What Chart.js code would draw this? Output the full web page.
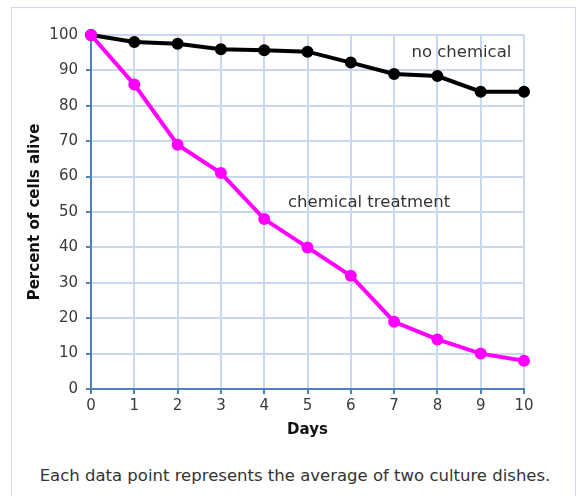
<!DOCTYPE html>
<html>
<head>
<meta charset="utf-8">
<script src="https://cdn.jsdelivr.net/npm/chart.js@4"></script>
<style>
  html, body { margin: 0; padding: 0; background: #fff; }
  body { width: 581px; height: 496px; position: relative; overflow: hidden; font-family: "DejaVu Sans", Verdana, sans-serif; }
  #frame { position: absolute; left: 11px; top: 7px; width: 563px; height: 520px; border: 1px solid #cfd9e6; }
  #wrap { position: absolute; left: 0; top: 0; width: 581px; height: 440px; }
  #caption { position: absolute; left: 0; top: 466px; width: 590px; text-align: center; font-size: 16.5px; color: #333; }
</style>
</head>
<body>
<div id="frame"></div>
<div id="wrap"><canvas id="cellsChart" width="581" height="440"></canvas></div>
<div id="caption">Each data point represents the average of two culture dishes.</div>
<script>
// Percent of cells alive per day
const days = [0, 1, 2, 3, 4, 5, 6, 7, 8, 9, 10];
const noChemical = [100, 98, 97.5, 96, 95.7, 95.3, 92.2, 89, 88.4, 84, 84];
const chemicalTreatment = [100, 86, 69, 61, 48, 40, 32, 19, 14, 10, 8];
const yTicks = [0, 10, 20, 30, 40, 50, 60, 70, 80, 90, 100];

// labels written inside the plot, placed in data units
const seriesNotes = [
    { text: 'no chemical', x: 7.4, y: 95 },
    { text: 'chemical treatment', x: 4.55, y: 52.6 }
];

const gridColor = '#c9d8ec';
const axisColor = '#4f81bd';
const tickColor = '#3a3a3a';
const fontFamily = '"DejaVu Sans", Verdana, sans-serif';

const notesPlugin = {
    id: 'seriesNotes',
    afterDatasetsDraw(chart) {
        const ctx = chart.ctx;
        ctx.save();
        ctx.font = '16.5px ' + fontFamily;
        ctx.fillStyle = '#333';
        ctx.textAlign = 'left';
        ctx.textBaseline = 'middle';
        seriesNotes.forEach(n => {
            ctx.fillText(n.text, chart.scales.x.getPixelForValue(n.x), chart.scales.y.getPixelForValue(n.y));
        });
        ctx.restore();
    }
};

const toPoints = vals => vals.map((v, i) => ({ x: days[i], y: v }));

new Chart(document.getElementById('cellsChart'), {
    type: 'line',
    data: {
        datasets: [
            {
                label: 'no chemical',
                data: toPoints(noChemical),
                borderColor: '#000',
                backgroundColor: '#000',
                borderWidth: 4,
                pointRadius: 4,
                pointHoverRadius: 4,
                tension: 0,
                clip: false,
                order: 2
            },
            {
                // magenta line sits on top of the black one
                label: 'chemical treatment',
                data: toPoints(chemicalTreatment),
                borderColor: '#ff00ff',
                backgroundColor: '#ff00ff',
                borderWidth: 4,
                pointRadius: 4,
                pointHoverRadius: 4,
                tension: 0,
                clip: false,
                order: 1
            }
        ]
    },
    options: {
        responsive: false,
        animation: false,
        layout: { padding: { top: 35, right: 57, left: 22, bottom: 0 } },
        plugins: { legend: { display: false }, tooltip: { enabled: false } },
        scales: {
            x: {
                type: 'linear',
                min: 0,
                max: 10,
                afterFit: s => { s.height = 51; },
                ticks: {
                    stepSize: 1,
                    color: tickColor,
                    padding: 3,
                    font: { family: fontFamily, size: 15 }
                },
                grid: { color: gridColor, lineWidth: 2, tickLength: 5, tickColor: axisColor },
                border: { color: axisColor, width: 2 },
                title: {
                    display: true,
                    text: 'Days',
                    color: '#111',
                    padding: { top: 0, bottom: 1 },
                    font: { family: fontFamily, size: 15, weight: 'bold' }
                }
            },
            y: {
                min: 0,
                max: 100,
                afterFit: s => { s.width = 69; },
                afterBuildTicks: s => { s.ticks = yTicks.map(v => ({ value: v })); },
                ticks: {
                    color: tickColor,
                    padding: 8,
                    font: { family: fontFamily, size: 15 }
                },
                grid: { color: gridColor, lineWidth: 2, tickLength: 5, tickColor: axisColor },
                border: { color: axisColor, width: 2 },
                title: {
                    display: true,
                    text: 'Percent of cells alive',
                    color: '#111',
                    padding: { top: 4, bottom: 0 },
                    font: { family: fontFamily, size: 15, weight: 'bold' }
                }
            }
        }
    },
    plugins: [notesPlugin]
});
</script>
</body>
</html>
